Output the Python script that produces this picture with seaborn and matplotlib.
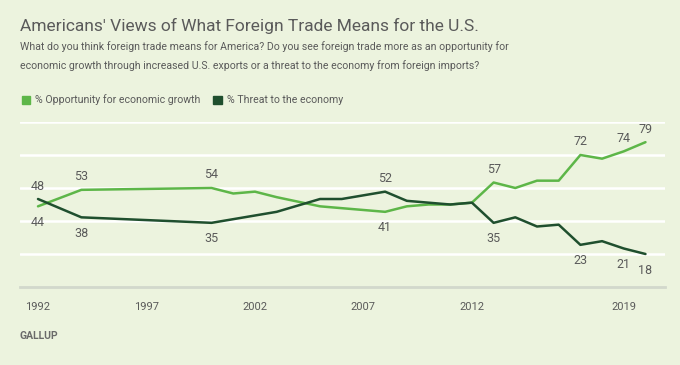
import matplotlib
matplotlib.use("Agg")
import matplotlib.pyplot as plt
import matplotlib.patches as mpatches
import seaborn as sns
import pandas as pd

years = [1992, 1994, 2000, 2001, 2002, 2003, 2005, 2006, 2008, 2009, 2010,
         2011, 2012, 2013, 2014, 2015, 2016, 2017, 2018, 2019, 2020]
opportunity = [44, 53, 54, 51, 52, 49, 44, 43, 41, 44, 45,
               45, 46, 57, 54, 58, 58, 72, 70, 74, 79]
threat = [48, 38, 35, 37, 39, 41, 48, 48, 52, 47, 46,
          45, 46, 35, 38, 33, 34, 23, 25, 21, 18]
series_names = ["% Opportunity for economic growth", "% Threat to the economy"]
tick_years = [1992, 1997, 2002, 2007, 2012, 2019]
labeled_years = [1992, 1994, 2000, 2008, 2013, 2017, 2019, 2020]

BG = "#ECF3DE"
LIGHT = "#5DB648"
DARK = "#1F4F2E"
TXT = "#5A5A5A"

df = pd.DataFrame({
    "year": years * 2,
    "value": opportunity + threat,
    "series": [series_names[0]] * len(years) + [series_names[1]] * len(years),
})

sns.set_style("white")
plt.rcParams["font.family"] = ["Roboto", "DejaVu Sans"]

fig = plt.figure(figsize=(6.8, 3.65), dpi=100, facecolor=BG)
ax = fig.add_axes([20 / 680, 1 - 287 / 365, 645 / 680, 165 / 365])
ax.set_facecolor(BG)

sns.lineplot(data=df, x="year", y="value", hue="series",
             palette={series_names[0]: LIGHT, series_names[1]: DARK},
             linewidth=1.8, legend=False, ax=ax)

ax.set_xlim(1991.17, 2020.9)
ax.set_ylim(0, 90)
ax.set_yticks([18, 36, 54, 72, 90])
ax.yaxis.grid(True, color="white", linewidth=1.8)
ax.set_axisbelow(True)
ax.tick_params(axis="y", left=False, labelleft=False)
ax.set_xticks(tick_years)
ax.set_xticklabels([str(y) for y in tick_years])
ax.tick_params(axis="x", colors="#D2D8CC", length=6, width=1, labelcolor=TXT,
               labelsize=8, pad=5)
for s in ["top", "right", "left"]:
    ax.spines[s].set_visible(False)
ax.spines["bottom"].set_color("#D2D8CC")
ax.spines["bottom"].set_linewidth(2)
ax.set_xlabel("")
ax.set_ylabel("")

# Etiquetas de valores: la serie de arriba encima, la de abajo debajo
for yr in labeled_years:
    i = years.index(yr)
    o, t = opportunity[i], threat[i]
    hi, lo = (o, t) if o >= t else (t, o)
    ax.annotate(str(hi), xy=(yr, hi), xytext=(0, 13), textcoords="offset pixels",
                ha="center", va="center", fontsize=9, color=TXT)
    ax.annotate(str(lo), xy=(yr, lo), xytext=(0, -16), textcoords="offset pixels",
                ha="center", va="center", fontsize=9, color=TXT)

# Titulo y subtitulo
fig.text(20 / 680, 1 - 26 / 365, "Americans' Views of What Foreign Trade Means for the U.S.",
         fontsize=12.5, color=TXT, va="center", ha="left")
fig.text(20 / 680, 1 - 47 / 365,
         "What do you think foreign trade means for America? Do you see foreign trade more as an opportunity for",
         fontsize=7.6, color=TXT, va="center", ha="left")
fig.text(20 / 680, 1 - 66 / 365,
         "economic growth through increased U.S. exports or a threat to the economy from foreign imports?",
         fontsize=7.6, color=TXT, va="center", ha="left")

handles = [mpatches.Patch(color=LIGHT, label=series_names[0]),
           mpatches.Patch(color=DARK, label=series_names[1])]
fig.legend(handles=handles, loc="center left", bbox_to_anchor=(12 / 680, 1 - 100 / 365),
           ncol=2, frameon=False, fontsize=7.6, handlelength=0.8, handleheight=0.8,
           handletextpad=0.5, columnspacing=1.2, labelcolor=TXT)

fig.text(20 / 680, 1 - 336 / 365, "GALLUP", fontsize=7.5, color="#6A6A6A",
         va="center", ha="left", fontweight="bold")

fig.savefig("out.png", dpi=100, facecolor=BG)
